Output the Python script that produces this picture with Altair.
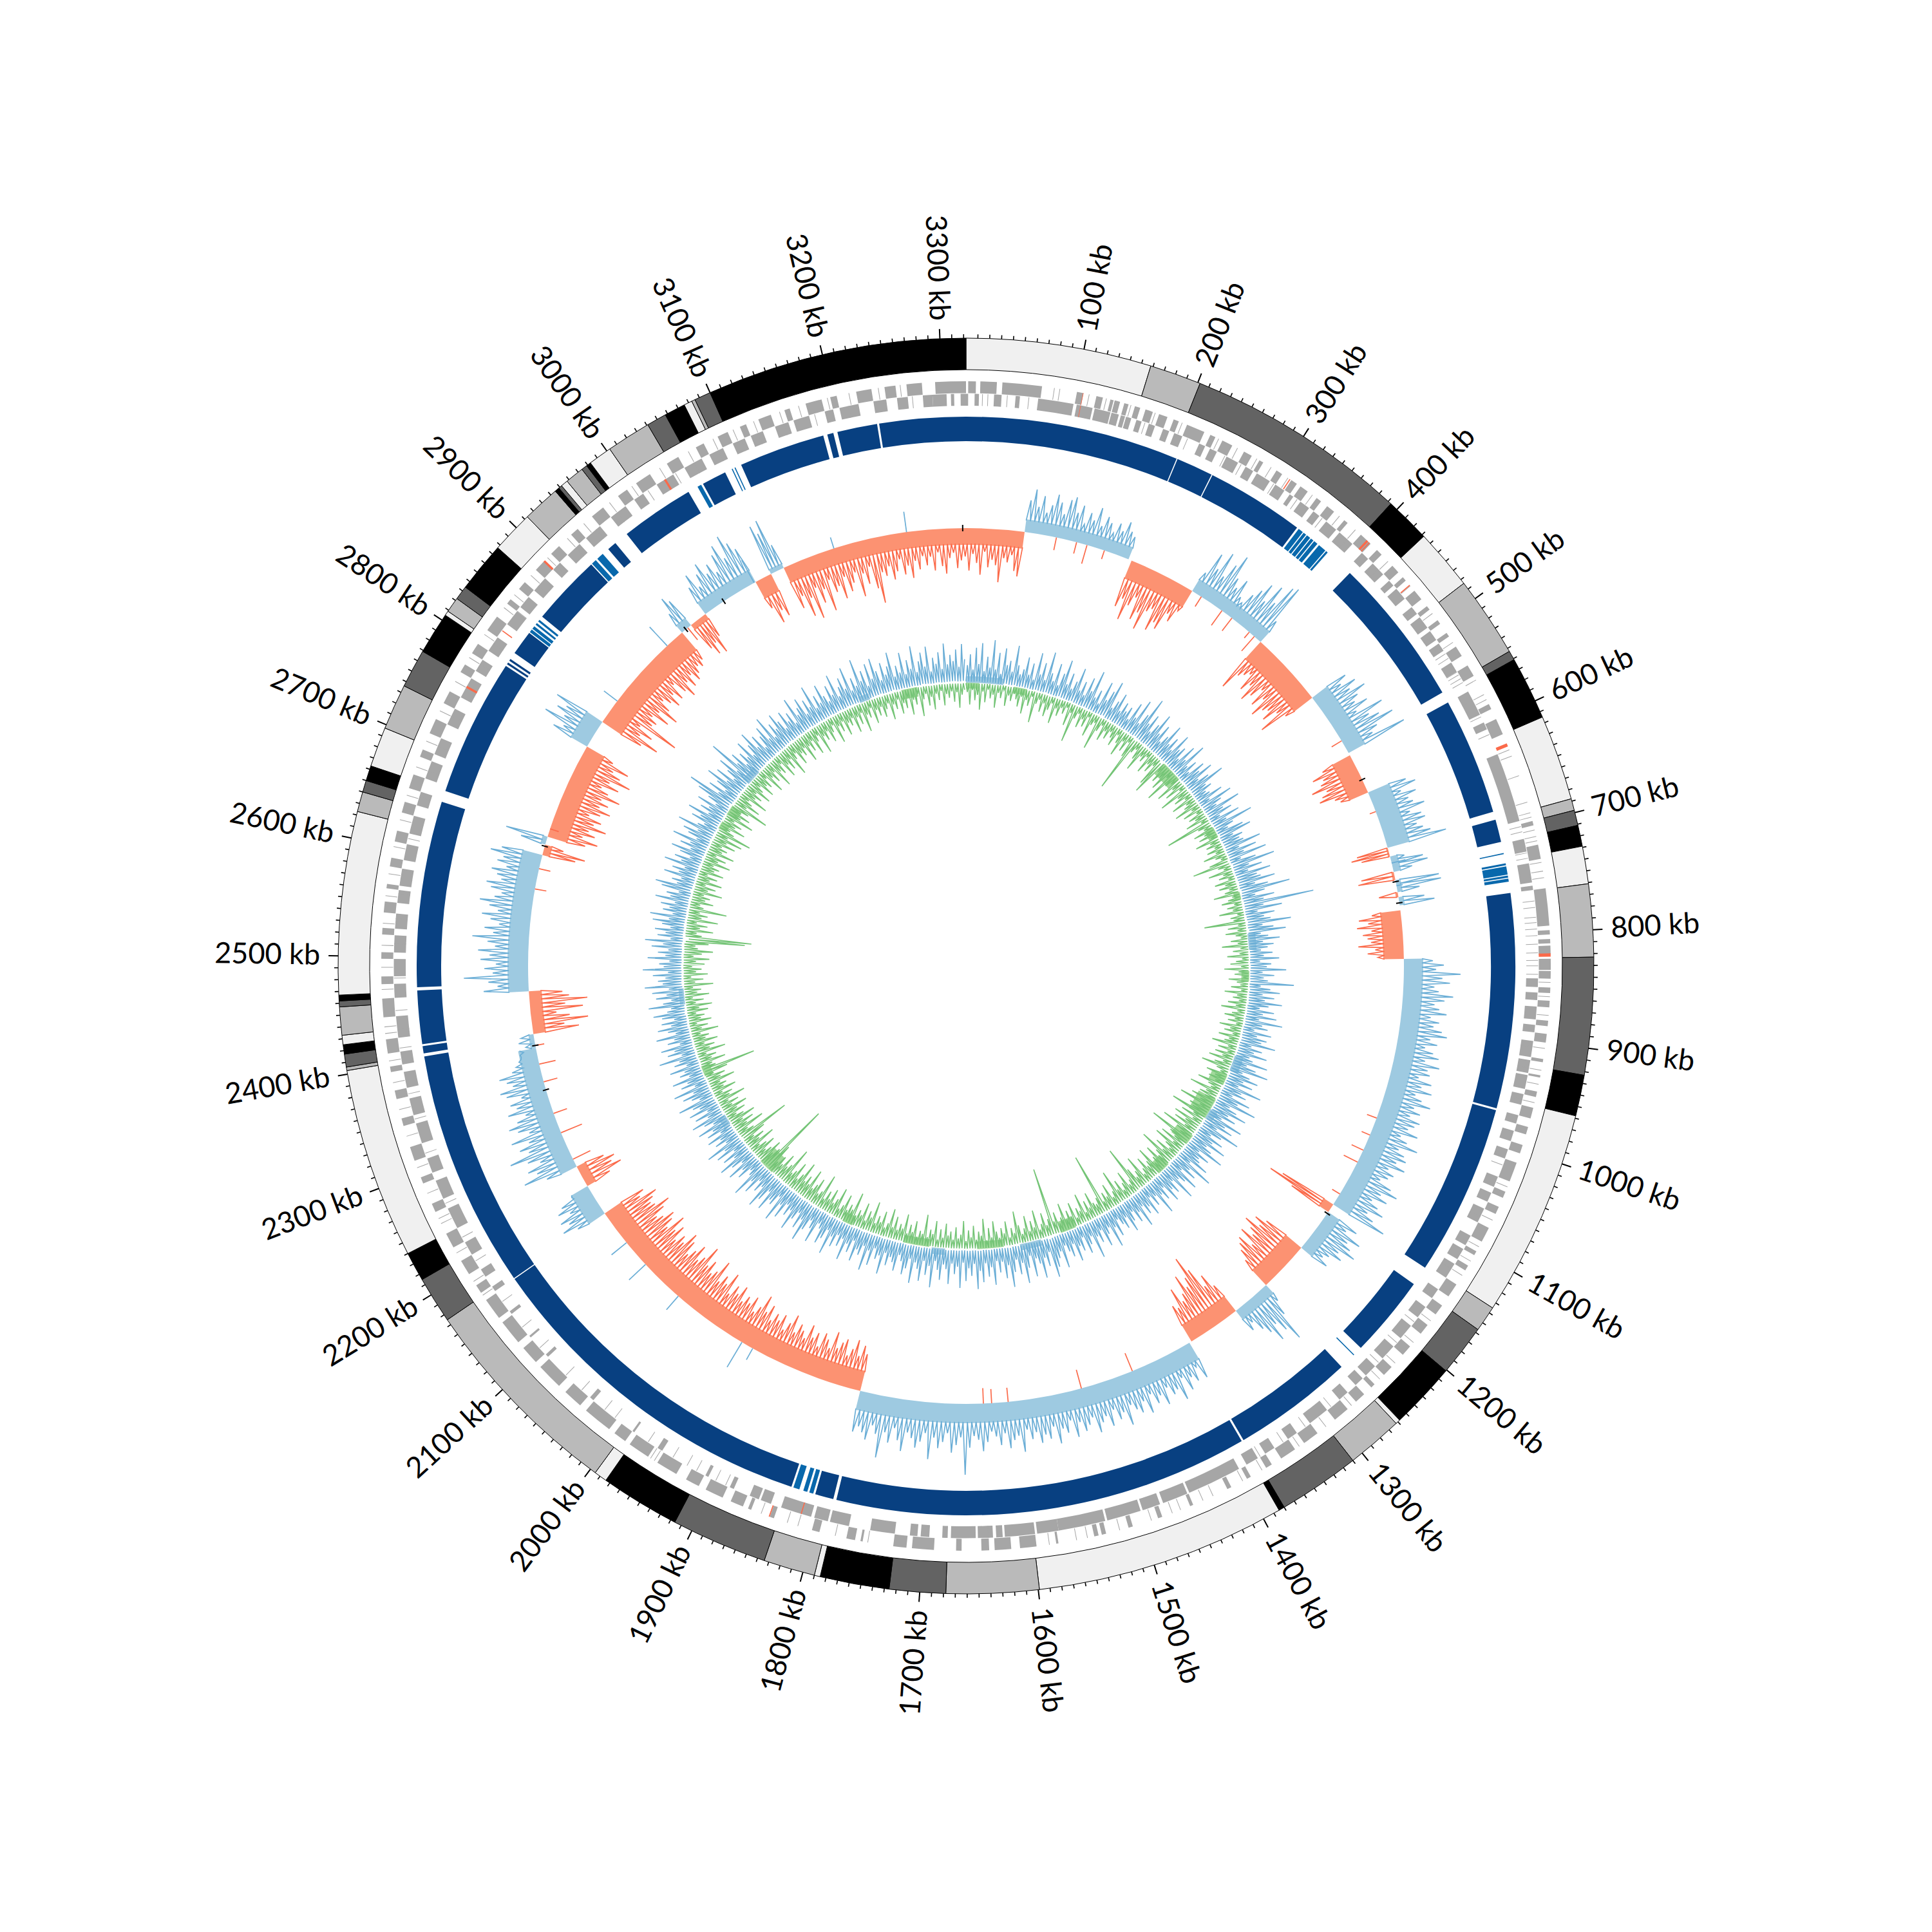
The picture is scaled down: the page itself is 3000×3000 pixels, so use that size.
import math
import altair as alt
import pandas as pd

alt.data_transformers.disable_max_rows()

L = 3322
W = 2984

band_edges = [0,158,202,393,432,484,553,561,615,688,698,711,729,761,823,923,958,1135,1157,1201,1258,1262,1310,1380,1385,1599,1678,1726,1785,1790,1834,1916,1984,1995,2175,2215,2240,2403,2406,2417,2425,2433,2457,2462,2467,2623,2640,2650,2663,2697,2736,2769,2805,2809,2822,2834,2877,2913,2945,2949,2952,2958,2974,2979,2983,3003,3041,3058,3076,3083,3086,3100,3322]
band_shades = ["l","b","d","k","l","b","d","k","l","b","d","k","l","b","d","k","l","b","d","k","l","b","d","k","l","b","d","k","l","b","d","k","l","b","d","k","l","b","d","k","l","b","d","k","l","b","d","k","l","b","d","k","l","b","d","k","l","b","k","d","l","b","d","k","l","b","d","k","l","b","d","k"]
shade = {"l":"#f0f0f0","b":"#bababa","d":"#636363","k":"#000000"}

ring_main = [(0,208),(209,245),(246,342),(409,555),(566,680),(688,710),(760,969),(971,1138),(1157,1237),(1263,1381),(1383,1787),(1790,1808),(1832,2171),(2172,2404),(2407,2414),(2416,2468),(2471,2652),(2663,2797),(2799,2801),(2803,2805),(2812,2836),(2856,2925),(2947,2956),(2970,3042),(3058,3082),(3099,3183),(3187,3193),(3197,3236),(3238,3322)]
ring_light = [(721,722),(731,733),(734,742),(743,745),(746,749),(1246,1247),(1810,1814),(1816,1820),(1824,1830),(2837,2840),(2841,2844),(2846,2848),(2850,2852),(2926,2931),(2933,2940),(3052,3056),(3089,3090),(3092,3093),(344,349),(350,353),(354,358),(359,362),(363,367),(369,377),(378,380)]

gene_top = [(3294,3322),(2,9),(13,28),(33,69),(101,107),(119,125),(132,135),(136,141),(145,149),(155,160),(165,172),(178,186),(192,197),(205,222),(228,233),(240,250),(262,270),(278,282),(296,302),(312,318),(322,330),(340,345),(352,360),(372,376),(392,404),(412,418),(432,440),(446,450),(462,472),(480,484),(496,500),(510,514),(525,535),(545,556),(585,590),(600,615),(698,702),(720,733),(760,794),(798,802),(806,810),(812,820),(824,834),(835,842),(850,855),(862,868),(880,885),(892,900),(915,918),(930,932),(945,950),(960,970),(978,985),(995,1003),(1012,1030),(1040,1046),(1055,1062),(1076,1090),(1100,1104),(1115,1120),(1135,1148),(1158,1168),(1180,1190),(1205,1215),(1230,1240),(1252,1256),(1265,1275),(1285,1300),(1320,1335),(1345,1360),(1370,1376),(1392,1396),(1412,1416),(1450,1453),(1480,1484),(1508,1512),(1533,1537),(1540,1544),(1577,1579),(1597,1612),(1620,1635),(1640,1647),(1665,1670),(1690,1710),(1715,1727),(1755,1757),(1762,1770),(1795,1802),(1838,1842),(1860,1863),(1868,1880),(1888,1905),(1912,1925),(1935,1955),(1965,1985),(1990,2002),(2008,2035),(2042,2060),(2068,2092),(2098,2115),(2122,2145),(2150,2170),(2178,2186),(2198,2212),(2226,2240),(2262,2270),(2290,2296),(2312,2325),(2345,2352),(2370,2378),(2395,2400),(2412,2425),(2445,2462),(2475,2482),(2498,2504),(2520,2526),(2540,2550),(2562,2566),(2582,2590),(2605,2615),(2632,2642),(2655,2668),(2685,2692),(2708,2722),(2738,2750),(2770,2778),(2790,2800),(2815,2830),(2845,2850),(2862,2870),(2885,2896),(2905,2915),(2930,2938),(2955,2968),(2985,2995),(3005,3020),(3038,3050),(3068,3076),(3090,3100),(3112,3118),(3130,3142),(3155,3160),(3175,3190),(3198,3204),(3222,3236),(3248,3258),(3268,3282)]
gene_bot = [(3291,3304),(3308,3311),(3317,3322),(0,2),(8,12),(26,33),(46,50),(67,100),(103,118),(120,135),(136,143),(145,149),(150,155),(160,165),(172,178),(186,192),(197,205),(222,228),(233,240),(250,262),(270,278),(282,296),(302,312),(318,322),(330,340),(345,352),(360,372),(376,392),(404,412),(418,432),(440,446),(450,462),(472,480),(484,496),(500,510),(514,522),(535,545),(566,590),(598,605),(630,695),(712,724),(735,753),(756,760),(842,850),(855,862),(868,880),(885,892),(900,915),(918,930),(932,945),(950,960),(970,978),(985,995),(1003,1012),(1030,1040),(1046,1055),(1062,1076),(1090,1100),(1104,1115),(1120,1135),(1148,1158),(1168,1180),(1190,1205),(1215,1230),(1240,1252),(1256,1265),(1275,1285),(1300,1320),(1335,1345),(1360,1370),(1378,1390),(1398,1449),(1451,1475),(1478,1495),(1497,1529),(1531,1575),(1575,1595),(1597,1625),(1627,1633),(1636,1650),(1652,1675),(1678,1683),(1695,1703),(1706,1713),(1727,1750),(1770,1788),(1790,1803),(1806,1835),(1845,1855),(1857,1866),(1882,1886),(1908,1911),(1957,1962),(1988,1990),(2036,2040),(2094,2097),(2118,2120),(2146,2149),(2172,2177),(2188,2196),(2212,2225),(2240,2260),(2270,2288),(2296,2310),(2325,2344),(2352,2368),(2378,2393),(2400,2412),(2425,2445),(2462,2475),(2482,2498),(2504,2520),(2526,2540),(2550,2562),(2566,2582),(2590,2605),(2615,2632),(2642,2655),(2668,2685),(2692,2708),(2722,2738),(2750,2770),(2778,2790),(2800,2815),(2830,2845),(2850,2862),(2870,2885),(2896,2905),(2915,2930),(2938,2955),(2968,2985),(2995,3005),(3020,3038),(3050,3068),(3076,3090),(3100,3112),(3118,3130),(3142,3155),(3160,3175),(3190,3198),(3204,3222),(3236,3248),(3258,3268),(3282,3291)]
gene_thin_top = [80,85,112,128,151,174,200,236,255,275,290,308,335,366,385,426,456,488,520,560,575,580,630,636,655,680,690,694,706,712,716,736,744,750,845,858,875,905,925,938,955,1035,1068,1095,1110,1125,1175,1200,1225,1245,1280,1310,1340,1380,1400,1430,1440,1462,1470,1490,1520,1550,1560,1585,1750,1780,1815,1825,1850,1958,1962,2175,2190,2220,2250,2255,2280,2305,2335,2360,2385,2405,2430,2436,2470,2490,2510,2530,2555,2575,2600,2625,2648,2675,2700,2730,2760,2785,2810,2840,2855,2878,2900,2925,2945,2975,3000,3030,3060,3085,3105,3125,3150,3168,3195,3215,3242,3262]
gene_thin_bot = [15,20,38,58,152,168,210,248,265,300,326,355,385,425,445,475,505,518,525,530,536,545,548,552,556,575,592,610,700,705,725,730,770,776,785,790,796,802,810,818,825,830,838,905,925,955,1018,1070,1096,1125,1155,1185,1210,1235,1295,1325,1350,1375,1640,1890,1900,1920,1930,1945,1972,2010,2022,2050,2070,2105,2130,2160,2205,2230,2265,2315,2348,2372,2415,2432,2450,2480,2512,2535,2558,2572,2610,2650,2675,2700,2730,2760,2785,2808,2845,2875,2900,2925,2950,2975,3010,3040,3060,3085,3108,3125,3150,3180,3212,3245,3272]
gene_red = [(106.5,107,0),(106.5,107,1),(310,311,0),(399,401,0),(402,403,0),(455,456,0),(624,627,0),(819,822,0),(1815,1816,1),(1842,1843,0),(2822,2823,1),(2895,2897,0),(3028,3030,1),(2760,2762,1)]

# outer track: start, end, direction, band thickness, spike heights
out_segs = [
 (3095,3393,-1,26,[70,52,88,60,96,48,75,55,92,44,66,58,80,47,72,60,45,85,50,68,42,78,102,55,62,48,70,58,40,65,52,72,46,60,40,55,42,64,36,58,70,46,38,62,50,44,66,40,54,72,36,60,48,56,82,44,50,38,62,70]),
 (71,201,1,20,[50,68,42,60,35,48,66,55,38,62,68,45,58,30,50,40,62,35,52,44,30,48,38,55,42,36]),
 (205,287,-1,30,[75,60,92,66,50,84,70,95,62,55,88,72,80,50,60,38]),
 (287,390,1,22,[35,72,50,82,45,70,90,55,42,60,34,28,48,62,78,52,85,60,95,100,40]),
 (390,482,-1,36,[90,62,55,48,74,60,84,70,52,78,60,88,72,66,80,58,92,50]),
 (482,562,1,30,[62,48,70,55,78,60,50,68,44,86,58,72,92,60,48,100]),
 (565,615,-1,32,[50,70,55,62,80,58,68,75,52,45]),
 (615,686,1,36,[62,75,48,70,55,60,76,50,66,70,54,62,72,95]),
 (686,697,-1,3,[50,60,45]),
 (697,716,1,12,[22,50,56,30]),
 (716,726,-1,4,[52,58]),
 (726,741,1,8,[68,70,35]),
 (741,747,-1,4,[30]),
 (747,757,1,8,[40,55]),
 (763,822,-1,32,[45,66,52,70,48,62,55,50,70,44,56,40]),
 (822,1135,1,30,[45,62,50,88,60,72,48,55,78,65,50,58,70,46,60,52,66,75,50,62,44,58,68,48,72,55,60,44,66,52,70,46,58,74,50,62,48,66,60,52,70,45,58,78,50,62,68,55,72,48,60,54,44,66,80,56,70,48,62,75,52,66,90]),
 (1135,1146,-1,18,[92,112,70]),
 (1146,1200,1,22,[55,40,70,52,62,75,50,60,42,35,48]),
 (1200,1262,-1,32,[68,85,72,95,80,70,88,60,82,75,66,50]),
 (1262,1310,1,18,[30,52,95,72,55,80,60,48,30,40]),
 (1310,1375,-1,30,[52,76,60,95,120,88,75,98,70,60,85,55,62]),
 (1378,1790,1,30,[60,38,58,48,66,42,75,55,60,45,70,52,62,44,72,50,66,58,48,78,55,64,46,70,52,60,74,48,58,66,50,72,44,62,54,76,48,66,58,70,52,62,46,80,54,60,72,48,66,52,44,60,74,56,50,68,110,52,64,76,46,60,70,54,88,48,62,72,58,50,80,64,46,70,55,96,60,48,72,62,54,64]),
 (1790,2174,-1,32,[58,70,52,76,60,48,72,65,54,78,50,62,70,46,66,56,74,50,60,68,52,78,62,48,70,58,66,52,74,60,84,62,50,72,58,66,54,76,60,70,52,84,62,72,58,90,68,60,78,66,95,72,62,84,70,58,78,88,66,74,60,82,70,92,64,78,86,70,62,80,94,72,68,76,86,60,70]),
 (2174,2213,1,30,[48,70,55,66,45,62,52,30]),
 (2213,2240,-1,16,[42,65,52,60,45]),
 (2240,2392,1,28,[50,85,60,72,48,66,92,58,70,52,78,46,62,74,58,42,68,52,60,40,62,70,48,56,66,44,36,30,25,20]),
 (2392,2409,1,8,[15,25,20]),
 (2409,2461,-1,20,[72,50,88,60,40,82,55,90,62,52]),
 (2461,2627,1,32,[70,48,62,100,55,68,50,74,60,78,52,64,88,56,70,48,62,76,52,66,82,60,50,68,76,54,62,72,50,66,58,80,64]),
 (2627,2640,-1,12,[52,66,30]),
 (2640,2650,1,8,[40,66]),
 (2650,2769,-1,32,[60,78,52,70,58,84,62,72,50,66,80,60,72,58,86,64,50,76,58,90,70,55,78,48]),
 (2769,2804,1,30,[62,48,85,55,72,60,82]),
 (2804,2949,-1,36,[70,96,60,78,52,115,66,70,58,84,62,92,72,55,66,78,60,74,50,70,84,62,75,58,72,64,55,60,52]),
 (2949,2963,1,15,[35,60,50]),
 (2963,2985,-1,10,[48,62,45,66,40]),
 (2985,3057,1,22,[48,66,40,58,72,50,62,44,70,82,56,90,74,60]),
 (3057,3078,-1,30,[48,76,58,70]),
 (3078,3095,1,8,[80,65,84,40]),
]
# stray spikes on the outer track: kb, signed height
stray_kb = [110,135,148,170,300,330,345,372,380,545,640,705,733,1018,1040,1060,1076,1120,1455,1520,1610,1630,1640,1930,1945,2040,2095,2130,2250,2285,2310,2350,2372,2395,2610,2585,2660,2835,2925,2958,3055,3160,3250]
stray_amp = [-20,-18,-30,-14,-18,-28,-25,-12,-30,-18,-10,22,10,-16,-14,-20,-24,-14,-30,-30,-22,-22,-24,20,45,28,35,30,-30,-35,-22,-22,-26,-14,-18,-18,-14,26,40,-24,40,18,32]
black_kb = [598,728,754,1148,2340,2395,2638,2955,3318,3012]

inner_blue = [
 34,48,28,56,36,62,26,46,32,68,30,52,24,58,38,44,30,64,40,28,
 36,52,30,46,24,60,34,50,28,66,40,30,54,26,44,62,32,48,28,40,
 58,30,44,26,52,36,64,30,42,24,56,34,48,62,28,40,52,30,44,34,
 42,26,52,34,60,30,46,72,38,52,30,44,60,36,50,28,40,58,34,46,
 30,56,38,44,28,52,34,60,30,42,26,48,38,54,30,44,62,34,40,28,
 32,48,26,56,40,30,60,36,46,26,52,32,66,38,28,48,56,30,42,36,
 40,60,30,52,34,62,26,46,70,34,50,30,58,40,44,60,34,50,80,44,
 30,54,40,112,38,60,28,50,36,44,70,32,46,60,28,38,52,30,44,36,
 26,42,30,50,24,40,34,58,28,44,30,36,70,26,40,52,30,46,34,56,
 40,28,48,34,52,30,60,36,44,26,50,32,46,40,58,28,44,34,52,30,
 36,56,30,44,60,28,40,52,34,48,30,62,38,46,28,54,40,66,32,44,
 58,36,48,30,60,40,52,32,66,44,30,50,38,58,34,44,62,30,48,36,
 40,54,30,66,36,48,28,56,42,34,60,30,46,38,52,28,44,34,58,30,
 42,26,50,36,44,30,56,34,46,28,40,52,30,44,36,26,48,34,58,30,
 38,52,28,44,34,60,30,40,50,26,44,36,54,30,46,38,28,56,34,42,
 52,64,30,48,36,60,42,34,56,28,44,62,36,50,30,46,64,36,52,30,
 44,28,58,36,48,30,54,40,62,30,46,36,52,28,60,34,44,30,56,38,
 32,52,40,28,62,36,48,30,56,42,34,60,30,44,52,36,28,50,40,34,
 46,30,58,36,42,28,52,34,60,30,44,38,54,28,46,36,58,32,44,30,
 48,36,60,30,44,52,34,28,56,40,30,46,62,36,50,30,42,58,34,44,
 30,52,36,60,28,44,40,56,32,48,60,34,44,30,52,38,62,34,28,46,
 36,54,30,44,58,34,48,28,52,38,60,30,44,34,50,28,46,36,54,30,
 42,56,32,48,28,52,36,44,60,30,40,50,34,58,28,46,36,54,30,42,
 34,52,28,44,36,60,30,48,38,54,28,44,34,56,30,40,52,34,46,28,
 44,54,36,30,58,40,28,48,34,52,30,60,38,44,34,50,30,62,36,42,
 28,56,34,44,30,52,38,60,28,46,36,50,30,42,54,34,58,30,44,36,
 48,30,56,38,44,28,52,60,34,42,30,54,36,46,30,58,38,48,28,44,
 56,32,48,36,60,30,44,52,34,62,38,30,50,40,58,32,46,36,54,30,
 44,60,78,36,52,30,46,62,36,54,30,44,58,34,80,40,52,30,46,36,
 56,32,46,60,36,50,28,44,54,34,62,30,48,38,56,44,30,52,36,46,
 28,60,36,44,54,30,48,36,62,30,46,34,56,40,30,50,36,60,30,42,
 52,36,62,30,46,34,68,38,50,28,56,36,60,44,30,52,36,46,62,30,
 44,34,58,30,48,36,64,30,44,54,36,60,28,46,38,52,30,62,36,48,
 40,54,32,60,42,
]
inner_green = [
 22,40,18,34,26,46,20,36,16,30,24,42,20,28,14,38,22,30,18,26,
 36,20,44,24,32,16,52,26,18,36,22,40,30,18,46,24,34,20,28,16,
 42,22,60,28,18,38,24,34,16,44,26,20,56,30,18,40,24,34,20,28,
 38,18,30,46,22,36,18,40,90,28,20,34,48,24,30,18,42,26,36,22,
 50,60,24,38,28,44,20,56,30,22,48,26,40,18,52,28,36,20,44,24,
 30,46,22,38,18,34,26,42,20,74,30,22,40,26,36,18,44,24,32,20,
 34,22,42,26,18,38,60,28,20,44,24,32,18,40,26,36,22,30,46,20,
 28,38,20,32,24,44,18,30,26,65,20,36,22,40,26,18,34,24,46,20,
 32,22,40,18,28,36,20,44,24,30,16,38,26,20,34,18,42,24,30,20,
 36,24,44,20,28,38,22,32,18,42,26,34,20,40,24,30,46,22,36,20,
 38,26,44,22,34,50,28,20,40,26,34,22,46,30,24,52,28,36,26,44,
 30,56,26,40,34,60,28,44,24,50,32,46,28,58,36,28,70,40,30,48,
 26,52,34,24,44,30,60,36,28,46,32,24,50,34,28,44,30,22,52,34,
 26,42,76,30,24,46,32,22,40,28,56,30,22,44,28,36,24,97,34,26,
 30,46,26,38,22,50,28,34,20,44,26,36,24,48,30,22,40,28,107,34,
 26,44,30,22,50,28,38,24,46,30,22,36,54,26,34,20,44,28,36,22,
 32,46,24,38,20,50,28,34,22,42,26,36,20,48,30,24,40,22,34,28,
 44,24,36,20,46,28,34,22,52,26,30,20,42,26,36,22,48,28,34,24,
 42,26,50,30,22,44,28,36,24,52,30,38,22,46,28,34,24,54,30,36,
 26,46,30,22,50,34,26,44,28,38,24,56,32,26,46,36,28,52,30,40,
 30,54,36,26,48,34,28,60,36,30,46,28,38,26,50,116,40,30,46,34,
 26,44,34,24,50,30,40,26,46,85,34,26,52,30,42,28,48,34,24,40,
 30,46,26,38,24,50,30,36,22,44,28,34,26,48,30,38,22,44,85,30,
 26,46,28,36,22,50,30,38,24,44,28,34,22,48,26,36,20,42,28,34,
 22,40,28,46,24,36,20,44,28,34,22,50,26,38,20,44,28,36,22,40,
 28,46,24,36,50,30,26,44,95,105,34,26,48,30,40,24,52,30,38,26,
 60,30,24,42,30,36,26,50,30,40,24,46,28,38,22,44,30,36,26,48,
 30,40,24,48,30,36,26,44,30,50,28,58,34,26,46,30,38,24,50,30,
 42,26,36,60,28,46,32,24,50,30,38,26,46,32,24,44,30,36,22,48,
 28,38,24,50,30,36,22,46,30,40,26,52,32,24,44,30,36,26,48,28,
 38,24,46,30,22,50,28,36,24,42,30,20,48,26,36,22,44,28,34,24,
 46,26,38,22,50,28,34,20,44,26,36,24,40,30,22,46,26,34,20,42,
 28,36,22,46,26,34,18,50,28,20,38,26,44,22,32,18,40,24,30,20,
 36,22,44,26,18,
]
in_fill_start = [3322,90,410,560,690,840,1040,1090,1170,1240,1450,1590,1730,1880,2060,2280,2760,2790,3200]
in_fill_end = [3347,115,450,580,705,860,1060,1130,1190,1265,1480,1640,1780,1900,2090,2300,2775,2810,3230]
in_fill_size = [9,10,22,15,10,12,25,30,30,20,18,12,12,15,30,14,14,18,15]
in_blue_start = [0,770,1000,1110,1520,1700,2180,2420,2860,3120]
in_blue_end = [70,800,1030,1130,1560,1725,2200,2450,2890,3140]
in_blue_size = [10,12,14,12,10,10,12,8,12,10]

tick_kb = list(range(10, 3321, 10))
label_kb = list(range(100, 3301, 100))

R_OUT, R_IN = 680, 440

def xy(kb, r):
    t = 2 * math.pi * kb / L
    return r * math.sin(t), r * math.cos(t)

def amp(v):
    return v if v >= 60 else 60 * (v / 60) ** 1.4

THETA = alt.Scale(domain=[0, L], range=[0, 2 * math.pi])
XS = alt.Scale(domain=[-W / 2, W / 2], range=[0, W])
YS = alt.Scale(domain=[-W / 2, W / 2], range=[W, 0])

def arcs(rows, **mark):
    df = pd.DataFrame(rows, columns=["a", "b", "r1", "r2", "c"])
    return alt.Chart(df).mark_arc(**mark).encode(
        theta=alt.Theta("a:Q", scale=THETA, stack=False),
        theta2="b:Q",
        radius=alt.Radius("r2:Q", scale=None),
        radius2="r1:Q",
        color=alt.Color("c:N", scale=None),
    )

def lines(rows, **mark):
    df = pd.DataFrame(rows, columns=["x", "y", "g", "o"])
    return alt.Chart(df).mark_line(**mark).encode(
        x=alt.X("x:Q", scale=XS, axis=None),
        y=alt.Y("y:Q", scale=YS, axis=None),
        detail="g:N",
        order="o:Q",
    )

def rules(rows, **mark):
    df = pd.DataFrame(rows, columns=["x", "y", "x2", "y2", "c"])
    return alt.Chart(df).mark_rule(**mark).encode(
        x=alt.X("x:Q", scale=XS, axis=None),
        y=alt.Y("y:Q", scale=YS, axis=None),
        x2="x2:Q",
        y2="y2:Q",
        color=alt.Color("c:N", scale=None),
    )

def radial(kb, r1, r2, c):
    a = xy(kb, r1)
    b = xy(kb, r2)
    return (a[0], a[1], b[0], b[1], c)

layers = []
layers.append(arcs([(band_edges[i], band_edges[i + 1], 926, 975, shade[band_shades[i]]) for i in range(len(band_shades))],
                   stroke="#000000", strokeWidth=1))
layers.append(rules([radial(k, 975, 990, "#000000") for k in tick_kb if k % 100 == 0], strokeWidth=2))
layers.append(rules([radial(k, 975, 981, "#000000") for k in tick_kb if k % 100 != 0], strokeWidth=1.6))
# genes
GENE = "#a6a6a6"
gene_rows = [(a, b, 889.5, 908, GENE) for a, b in gene_top] + [(a, b, 870, 888.5, GENE) for a, b in gene_bot]
gene_rows += [(k, k + 0.6, 889.5, 908, GENE) for k in gene_thin_top] + [(k, k + 0.6, 870, 888.5, GENE) for k in gene_thin_bot]
layers.append(arcs(gene_rows))
layers.append(arcs([(a, b, 889.5 if s == 0 else 870, 908 if s == 0 else 888.5, "#fb6a4a") for a, b, s in gene_red]))
# ring
layers.append(arcs([(a, b, 815, 853, "#084081") for a, b in ring_main] + [(a, b, 815, 853, "#0868ac") for a, b in ring_light]))

# outer track
fills = []
line_sets = {1: [], -1: []}
for si, (a, b, sgn, fill, vals) in enumerate(out_segs):
    r1, r2 = sorted((R_OUT, R_OUT + sgn * fill))
    col = "#9ecae1" if sgn > 0 else "#fc9272"
    if b <= L:
        fills.append((a, b, r1, r2, col))
    else:
        fills.append((a, L, r1, r2, col))
        fills.append((0, b - L, r1, r2, col))
    step = (b - a) / len(vals)
    o = 0
    for i, v in enumerate(vals):
        p = a + i * step
        for kb, off in [(p, fill - 2), (p + step * 0.5, v)]:
            x, y = xy(kb, R_OUT + sgn * off)
            line_sets[sgn].append((x, y, si, o))
            o += 1
    x, y = xy(b, R_OUT + sgn * (fill - 2))
    line_sets[sgn].append((x, y, si, o))
layers.append(arcs(fills))
layers.append(lines(line_sets[1], color="#6baed6", strokeWidth=1.7))
layers.append(lines(line_sets[-1], color="#fb6a4a", strokeWidth=1.7))
layers.append(rules([radial(k, R_OUT, R_OUT + v, "#fb6a4a" if v < 0 else "#6baed6") for k, v in zip(stray_kb, stray_amp)], strokeWidth=1.7))
layers.append(rules([radial(k, R_OUT - 5, R_OUT + 5, "#000000") for k in black_kb], strokeWidth=2))

# inner track
inner_fill = []
for a, b, s in zip(in_fill_start, in_fill_end, in_fill_size):
    if b <= L:
        inner_fill.append((a, b, R_IN - s, R_IN, "#a1d99b"))
    else:
        inner_fill.append((a, L, R_IN - s, R_IN, "#a1d99b"))
        inner_fill.append((0, b - L, R_IN - s, R_IN, "#a1d99b"))
for a, b, s in zip(in_blue_start, in_blue_end, in_blue_size):
    inner_fill.append((a, b, R_IN, R_IN + s, "#9ecae1"))
layers.append(arcs(inner_fill))

def inner_line(vals, sgn):
    rows = []
    o = 0
    st = L / len(vals)
    for i, v in enumerate(vals):
        p = i * st
        low = 0.08 * min(amp(vals[i - 1]), amp(v))
        for kb, off in [(p, low), (p + 0.5 * st, amp(v))]:
            x, y = xy(kb, R_IN + sgn * off)
            rows.append((x, y, 0, o))
            o += 1
    return rows

layers.append(lines(inner_line(inner_blue, 1), color="#6baed6", strokeWidth=1.6))
layers.append(lines(inner_line(inner_green, -1), color="#74c476", strokeWidth=1.6))

# labels
lab = []
for k in label_kb:
    th = 360 * k / L
    x, y = xy(k, 1003)
    right = th < 180
    lab.append({"x": x, "y": y, "t": f"{k} kb", "ang": (th - 90) % 360 if right else (th + 90) % 360, "right": right})
lab = pd.DataFrame(lab)
for right, al in [(True, "left"), (False, "right")]:
    layers.append(alt.Chart(lab[lab.right == right]).mark_text(
        align=al, baseline="middle", font="Lato", fontSize=45, color="#000000"
    ).encode(
        x=alt.X("x:Q", scale=XS, axis=None),
        y=alt.Y("y:Q", scale=YS, axis=None),
        text="t:N",
        angle=alt.Angle("ang:Q", scale=None),
    ))

chart = alt.layer(*layers).properties(
    width=W, height=W, padding=0, autosize=alt.AutoSizeParams(type="none")
).configure_view(stroke=None)

chart.save("out.html", embed_options={"renderer": "svg", "actions": False})
